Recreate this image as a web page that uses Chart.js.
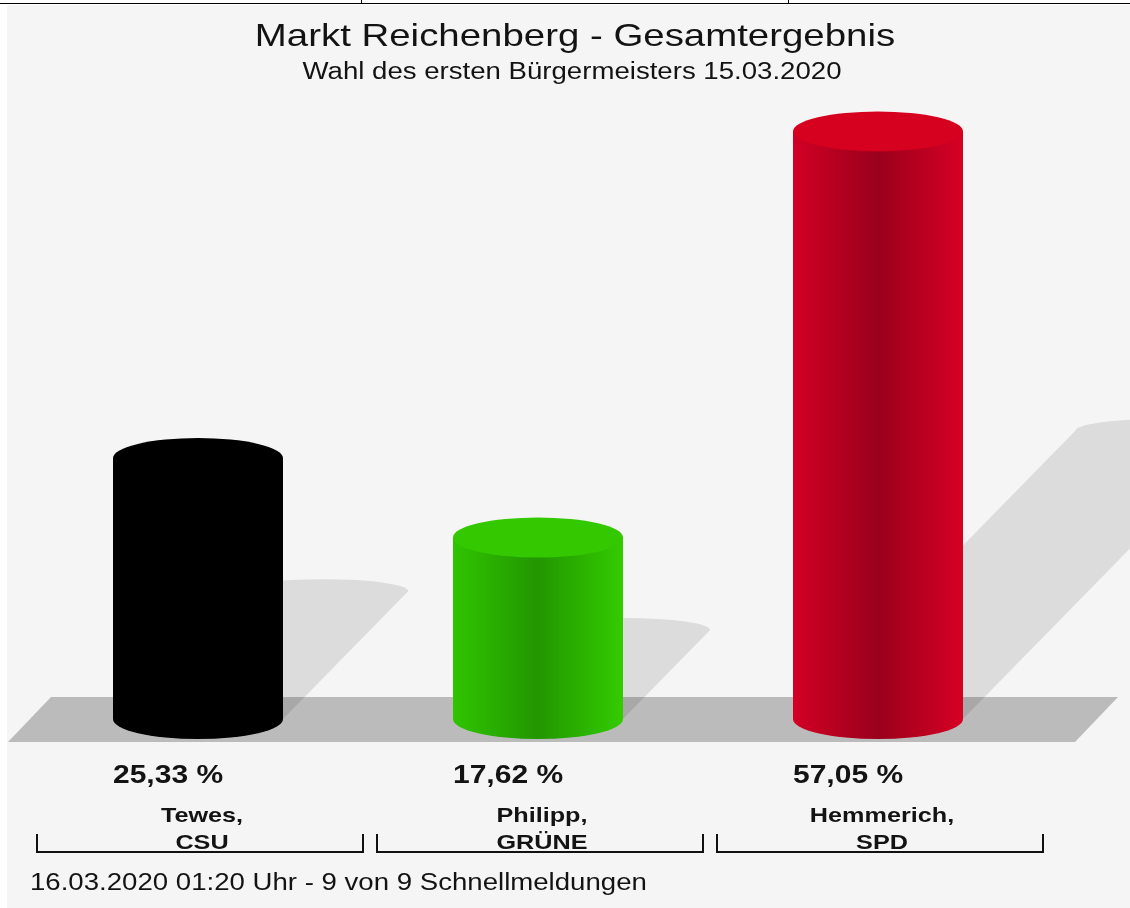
<!DOCTYPE html>
<html>
<head>
<meta charset="utf-8">
<script src="https://cdn.jsdelivr.net/npm/chart.js@4"></script>
<style>
  html, body { margin: 0; padding: 0; background: #fff; }
  #wrap { width: 1130px; height: 908px; }
</style>
</head>
<body>
<div id="wrap"><canvas id="resultChart" width="1130" height="908"></canvas></div>
<script>
// Data
const candidates = [['Tewes,', 'CSU'], ['Philipp,', 'GRÜNE'], ['Hemmerich,', 'SPD']];
const shares = [25.33, 17.62, 57.05];
const shareLabels = ['25,33 %', '17,62 %', '57,05 %'];
const chartTitle = 'Markt Reichenberg - Gesamtergebnis';
const chartSubtitle = 'Wahl des ersten Bürgermeisters 15.03.2020';
const footerText = '16.03.2020 01:20 Uhr - 9 von 9 Schnellmeldungen';

// Styling for the cylinders: [edge, middle, edge, cap]
const cylinderColors = [
    ['#000000', '#000000', '#000000', '#000000'],
    ['#30c400', '#229600', '#33cc00', '#33c800'],
    ['#d20024', '#9a001c', '#d60024', '#d6001f']
];

const SX = 1.2;       // the original text is stretched horizontally
const CAP_RY = 20;    // vertical radius of the ellipses
const textColor = '#131313';

function stretchText(c, text, x, y, font, align) {
    c.save();
    c.font = font;
    c.fillStyle = textColor;
    c.textAlign = align;
    c.textBaseline = 'alphabetic';
    c.translate(x, y);
    c.scale(SX, 1);
    c.fillText(text, 0, 0);
    c.restore();
}

const backdrop = {
    id: 'backdrop',
    beforeDraw(chart) {
        const c = chart.ctx;
        const base = chart.scales.y.getPixelForValue(0);
        c.save();
        c.fillStyle = '#ffffff';
        c.fillRect(0, 0, chart.width, chart.height);
        c.fillStyle = '#f5f5f5';
        c.fillRect(7, 5, chart.width - 7, chart.height - 5);
        // table border at the top
        c.fillStyle = '#000';
        c.fillRect(0, 3, chart.width, 1);
        c.fillRect(361, 0, 1, 4);
        c.fillRect(788, 0, 1, 4);
        // floor
        c.fillStyle = '#bbbbbb';
        c.beginPath();
        c.moveTo(8, base + 23);
        c.lineTo(51, base - 22);
        c.lineTo(1118, base - 22);
        c.lineTo(1075, base + 23);
        c.closePath();
        c.fill();
        c.restore();

        stretchText(c, chartTitle, 575, 46, '32px "Liberation Sans", Arial, sans-serif', 'center');
        stretchText(c, chartSubtitle, 572, 79, '23px "Liberation Sans", Arial, sans-serif', 'center');
        stretchText(c, footerText, 30, 890, '23px "Liberation Sans", Arial, sans-serif', 'left');
    }
};

const cylinders = {
    id: 'cylinders',
    afterDatasetsDraw(chart) {
        const c = chart.ctx;
        const meta = chart.getDatasetMeta(0);
        meta.data.forEach((bar, i) => {
            const cx = bar.x - 2, top = bar.y, base = bar.base;
            const rx = bar.width / 2;
            const h = base - top;
            const dx = 0.48 * h, dy = 0.49 * h;
            // shadow on the back wall
            c.save();
            c.fillStyle = 'rgba(0,0,0,0.1)';
            c.beginPath();
            c.moveTo(cx + rx, base);
            c.lineTo(cx + rx + dx, base - dy);
            c.ellipse(cx + dx, base - dy, rx, 12, 0, 0, Math.PI, true);
            c.lineTo(cx - rx, base);
            c.closePath();
            c.fill();
            c.restore();

            const col = cylinderColors[i];
            // body
            const g = c.createLinearGradient(cx - rx, 0, cx + rx, 0);
            g.addColorStop(0, col[0]);
            g.addColorStop(0.5, col[1]);
            g.addColorStop(1, col[2]);
            c.save();
            c.fillStyle = g;
            c.beginPath();
            c.moveTo(cx - rx, top);
            c.lineTo(cx - rx, base);
            c.ellipse(cx, base, rx, CAP_RY, 0, Math.PI, 0, true);
            c.lineTo(cx + rx, top);
            c.closePath();
            c.fill();
            // cap
            c.fillStyle = col[3];
            c.beginPath();
            c.ellipse(cx, top, rx, CAP_RY, 0, 0, Math.PI * 2);
            c.fill();
            c.restore();

            // labels
            stretchText(c, shareLabels[i], cx - rx, base + 64, 'bold 25px "Liberation Sans", Arial, sans-serif', 'left');
            const mid = chart.scales.x.getPixelForValue(i);
            stretchText(c, candidates[i][0], mid + 2, base + 103, 'bold 21px "Liberation Sans", Arial, sans-serif', 'center');
            stretchText(c, candidates[i][1], mid + 2, base + 130, 'bold 21px "Liberation Sans", Arial, sans-serif', 'center');
            // bracket
            const half = chart.scales.x.width / candidates.length / 2;
            const l = mid - half + 7, r = mid + half - 7, ly = base + 133;
            c.save();
            c.strokeStyle = '#111';
            c.lineWidth = 2;
            c.beginPath();
            c.moveTo(l, ly - 18);
            c.lineTo(l, ly);
            c.lineTo(r, ly);
            c.lineTo(r, ly - 18);
            c.stroke();
            c.restore();
        });
    }
};

new Chart(document.getElementById('resultChart').getContext('2d'), {
    type: 'bar',
    data: {
        labels: candidates,
        datasets: [{
            data: shares,
            backgroundColor: 'rgba(0,0,0,0)',
            barPercentage: 0.5,
            categoryPercentage: 1.0
        }]
    },
    options: {
        responsive: false,
        animation: false,
        layout: { padding: { left: 30, right: 80, top: 101, bottom: 189 } },
        scales: {
            x: { display: false },
            y: { display: false, min: 0, max: 60 }
        },
        plugins: {
            legend: { display: false },
            tooltip: { enabled: false }
        }
    },
    plugins: [backdrop, cylinders]
});
</script>
</body>
</html>
